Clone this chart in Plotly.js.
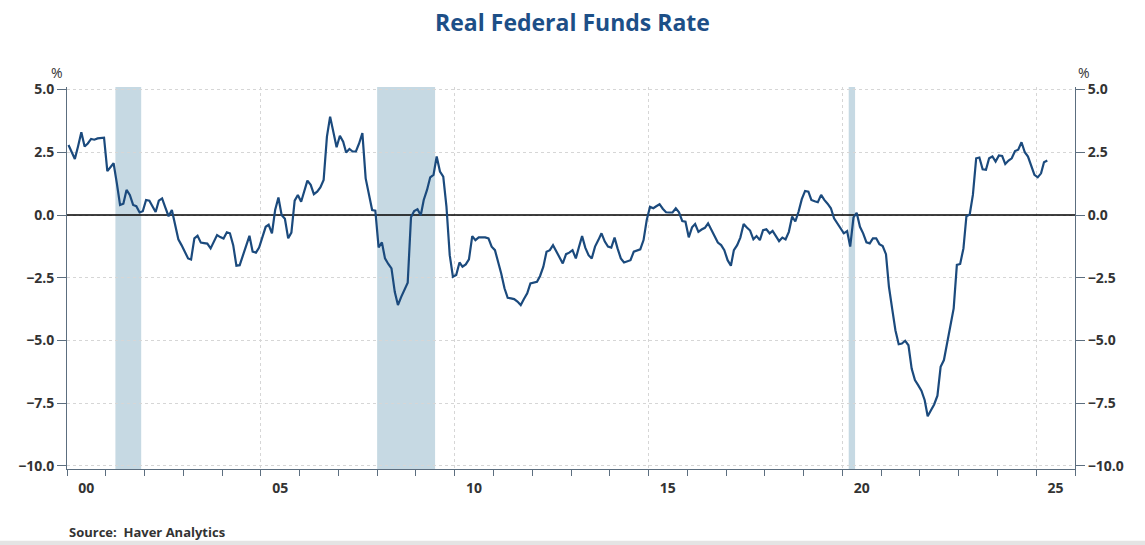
<!DOCTYPE html>
<html>
<head>
<meta charset="utf-8">
<script src="https://cdn.plot.ly/plotly-3.0.1.min.js"></script>
<style>
  html, body { margin: 0; padding: 0; background: #ffffff; }
  #chart { width: 1145px; height: 545px; }
</style>
</head>
<body>
<div id="chart"></div>
<script>
// Monthly real federal funds rate (%), one row per year, starting January 2000
const firstYear = 2000;

const rate2000to2004 = [
  2.79, 2.5, 2.23, 2.75, 3.3, 2.73, 2.85, 3.03, 3.0, 3.05, 3.05, 3.08,
  1.75, 1.9, 2.06, 1.25, 0.4, 0.45, 1.0, 0.8, 0.4, 0.35, 0.1, 0.15,
  0.6, 0.57, 0.35, 0.12, 0.57, 0.66, 0.3, -0.05, 0.2, -0.4, -0.97, -1.2,
  -1.45, -1.73, -1.77, -0.93, -0.83, -1.1, -1.12, -1.14, -1.33, -1.05, -0.8, -0.88,
  -0.94, -0.69, -0.73, -1.2, -2.02, -2.0, -1.6, -1.2, -0.83, -1.46, -1.5, -1.3
];

const rate2005to2009 = [
  -0.9, -0.47, -0.39, -0.73, 0.2, 0.7, 0.0, -0.15, -0.93, -0.7, 0.57, 0.8,
  0.53, 0.95, 1.37, 1.2, 0.83, 0.93, 1.1, 1.4, 3.12, 3.92, 3.3, 2.7,
  3.16, 2.92, 2.49, 2.63, 2.53, 2.53, 2.85, 3.26, 1.46, 0.8, 0.2, 0.17,
  -1.29, -1.09, -1.73, -1.95, -2.13, -3.06, -3.59, -3.26, -2.95, -2.7, -0.09, 0.16,
  0.23, -0.01, 0.6, 1.0, 1.5, 1.6, 2.33, 1.73, 1.53, 0.33, -1.6, -2.46
];

const rate2010to2014 = [
  -2.39, -1.89, -2.06, -1.97, -1.77, -0.84, -1.0, -0.89, -0.89, -0.89, -0.93, -1.26,
  -1.4, -1.85, -2.33, -2.92, -3.3, -3.32, -3.35, -3.45, -3.59, -3.35, -3.12, -2.73,
  -2.7, -2.66, -2.43, -2.06, -1.46, -1.4, -1.2, -1.45, -1.66, -1.93, -1.56, -1.5,
  -1.4, -1.73, -1.3, -0.84, -1.3, -1.6, -1.73, -1.26, -1.0, -0.73, -1.06, -1.26,
  -1.3, -0.9, -1.33, -1.73, -1.89, -1.85, -1.8, -1.46, -1.4, -1.37, -1.0, -0.2
];

const rate2015to2019 = [
  0.33, 0.27, 0.35, 0.43, 0.25, 0.11, 0.1, 0.1, 0.27, 0.11, -0.24, -0.27,
  -0.89, -0.49, -0.36, -0.67, -0.58, -0.51, -0.33, -0.6, -0.85, -1.1, -1.2, -1.4,
  -1.8, -2.02, -1.4, -1.2, -0.9, -0.36, -0.5, -0.62, -0.97, -0.84, -1.0, -0.6,
  -0.57, -0.73, -0.63, -0.82, -1.04, -0.9, -0.97, -0.67, -0.06, -0.26, 0.14, 0.63,
  0.96, 0.93, 0.6, 0.55, 0.51, 0.8, 0.6, 0.45, 0.27, -0.13, -0.35, -0.53
];

const rate2020to2024 = [
  -0.73, -0.64, -1.26, -0.1, 0.09, -0.47, -0.73, -1.09, -1.13, -0.93, -0.93, -1.16,
  -1.24, -1.56, -2.86, -3.75, -4.59, -5.15, -5.12, -5.01, -5.19, -6.12, -6.58, -6.78,
  -7.0, -7.38, -8.02, -7.78, -7.55, -7.2, -6.05, -5.78, -5.12, -4.52, -3.72, -1.99,
  -1.95, -1.33, -0.05, 0.02, 0.8, 2.26, 2.29, 1.82, 1.8, 2.26, 2.33, 2.13,
  2.37, 2.35, 2.03, 2.17, 2.26, 2.55, 2.6, 2.9, 2.5, 2.33, 2.0, 1.6
];

const rate2025 = [1.5, 1.66, 2.1, 2.17];

// NBER recessions (shaded)
const recessionStarts = ['2001-04-01', '2008-01-01', '2020-03-01'];
const recessionEnds   = ['2001-11-30', '2009-06-30', '2020-04-30'];

// Year labels on the time axis
const labelYears = [2000, 2005, 2010, 2015, 2020, 2025];
const yearLabels = ['00', '05', '10', '15', '20', '25'];

const rate = [].concat(rate2000to2004, rate2005to2009, rate2010to2014,
                       rate2015to2019, rate2020to2024, rate2025);

// Each monthly observation sits at the middle of its month
const months = rate.map((_, i) => {
  const yr = firstYear + Math.floor(i / 12);
  const mo = String(i % 12 + 1).padStart(2, '0');
  return `${yr}-${mo}-15`;
});

const xRange = ['2000-01-01', '2026-01-01'];
const yRange = [-10.12, 5.1];

const navy = '#1b4a7d';
const axisColor = '#5c6e7f';
const gridColor = '#d6d6d6';
const gridDash = '3px,3px';
const labelFont = { family: '"Open Sans", "DejaVu Sans", sans-serif', size: 14, color: '#333333', weight: 'bold' };

const traces = [
  // solid zero reference line across the whole plot
  {
    x: xRange, y: [0, 0],
    type: 'scatter', mode: 'lines',
    line: { color: '#000000', width: 1.5 },
    hoverinfo: 'skip'
  },
  {
    x: months, y: rate,
    type: 'scatter', mode: 'lines',
    line: { color: navy, width: 2.2 },
    hoverinfo: 'x+y'
  },
  // empty trace so the label axis and the right-hand axis are drawn
  { x: [months[0]], y: [null], xaxis: 'x2', yaxis: 'y2', type: 'scatter', mode: 'lines', hoverinfo: 'skip', showlegend: false }
];

const shapes = recessionStarts.map((s, i) => ({
  type: 'rect', xref: 'x', yref: 'paper',
  x0: s, x1: recessionEnds[i], y0: 0, y1: 1,
  fillcolor: '#c6d9e3', line: { width: 0 }, layer: 'between'
}));
// thin grey strip along the bottom edge of the page
shapes.push({
  type: 'rect', xref: 'paper', yref: 'paper',
  x0: -67 / 1008, x1: 1078 / 1008, y0: -0.2016, y1: -0.1875,
  fillcolor: '#e4e4e4', line: { width: 0 }, layer: 'above'
});

const layout = {
  width: 1145, height: 545,
  margin: { l: 67, r: 70, t: 87, b: 76, pad: 0 },
  paper_bgcolor: '#ffffff', plot_bgcolor: '#ffffff',
  showlegend: false,
  title: {
    text: 'Real Federal Funds Rate',
    font: { family: '"Open Sans", "DejaVu Sans", sans-serif', size: 23, color: '#1d4f87', weight: 'bold' },
    x: 0.5, xref: 'container', xanchor: 'center',
    y: 1 - 23 / 545, yref: 'container', yanchor: 'middle'
  },
  xaxis: {
    type: 'date', range: xRange,
    tickmode: 'linear', tick0: '2000-01-01', dtick: 'M60',
    ticks: 'outside', ticklen: 6, tickcolor: axisColor, tickwidth: 1,
    showticklabels: false,
    showgrid: true, gridcolor: gridColor, griddash: gridDash, gridwidth: 1,
    showline: true, linecolor: axisColor, linewidth: 1,
    zeroline: false,
    minor: { tickmode: 'linear', tick0: '2000-01-01', dtick: 'M12', ticks: 'outside', ticklen: 6, tickcolor: axisColor, showgrid: false }
  },
  xaxis2: {
    type: 'date', range: xRange, overlaying: 'x', anchor: 'y', side: 'bottom',
    tickmode: 'array',
    tickvals: labelYears.map(y => `${y}-07-01`),
    ticktext: yearLabels,
    ticks: 'outside', ticklen: 6, tickcolor: 'rgba(0,0,0,0)',
    tickfont: labelFont,
    showgrid: false, showline: false, zeroline: false
  },
  yaxis: {
    range: yRange, tickmode: 'linear', tick0: 0, dtick: 2.5, tickformat: '.1f',
    ticks: 'outside', ticklen: 9, tickcolor: axisColor,
    tickfont: labelFont,
    showgrid: true, gridcolor: gridColor, griddash: gridDash, gridwidth: 1,
    showline: true, linecolor: axisColor, linewidth: 1,
    zeroline: false
  },
  yaxis2: {
    range: yRange, overlaying: 'y', side: 'right', anchor: 'x',
    tickmode: 'linear', tick0: 0, dtick: 2.5, tickformat: '.1f',
    ticks: 'outside', ticklen: 9, tickcolor: axisColor,
    tickfont: labelFont,
    showgrid: false, zeroline: false,
    showline: true, linecolor: axisColor, linewidth: 1
  },
  shapes: shapes,
  annotations: [
    { text: '%', xref: 'paper', yref: 'paper', x: -10 / 1008, y: (469 - 72) / 382,
      xanchor: 'center', yanchor: 'middle', showarrow: false,
      font: { family: '"Open Sans", sans-serif', size: 14, color: '#333333' } },
    { text: '%', xref: 'paper', yref: 'paper', x: 1017 / 1008, y: (469 - 72) / 382,
      xanchor: 'center', yanchor: 'middle', showarrow: false,
      font: { family: '"Open Sans", sans-serif', size: 14, color: '#333333' } },
    { text: 'Source:  Haver Analytics', xref: 'paper', yref: 'paper', x: 0 / 1008, y: (469 - 532) / 382,
      xanchor: 'left', yanchor: 'middle', showarrow: false,
      font: { family: '"Open Sans", sans-serif', size: 13, color: '#333333', weight: 'bold' } }
  ]
};

Plotly.newPlot('chart', traces, layout, { displayModeBar: false, staticPlot: true });
</script>
</body>
</html>
